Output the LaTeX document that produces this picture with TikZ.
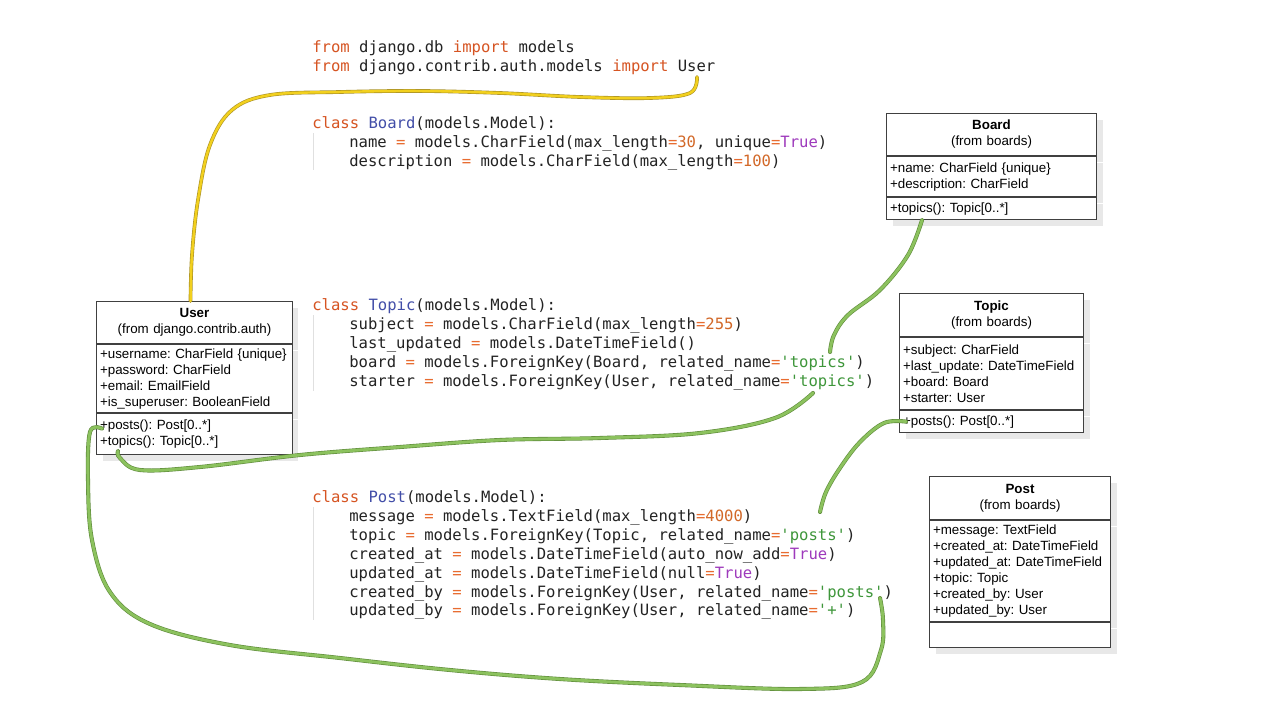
\documentclass[tikz,border=0pt]{standalone}
\usepackage{fontspec}
\setmainfont{Liberation Sans}
\newfontfamily\codefont{DejaVu Sans Mono}
\usetikzlibrary{positioning,shadows}

\definecolor{kwcol}{RGB}{214,84,34}
\definecolor{clscol}{RGB}{66,78,168}
\definecolor{eqcol}{RGB}{232,108,48}
\definecolor{numcol}{RGB}{210,104,40}
\definecolor{strcol}{RGB}{62,150,58}
\definecolor{trucol}{RGB}{158,58,188}
\definecolor{txtcol}{RGB}{35,35,35}
\definecolor{lnkgreen}{RGB}{140,194,94}
\definecolor{lnkgreendark}{RGB}{96,140,60}
\definecolor{lnkyellow}{RGB}{242,208,30}
\definecolor{lnkyellowdark}{RGB}{170,146,40}

\newcommand\codekw[1]{\textcolor{kwcol}{#1}}
\newcommand\codecls[1]{\textcolor{clscol}{#1}}
\newcommand\codeeq{\textcolor{eqcol}{=}}
\newcommand\codenum[1]{\textcolor{numcol}{#1}}
\newcommand\codestr[1]{\textcolor{strcol}{#1}}
\newcommand\codetrue{\textcolor{trucol}{True}}

\tikzset{
  code/.style={anchor=base west, inner sep=0pt, text=txtcol,
    font=\fontsize{8.86pt}{10.8pt}\selectfont\codefont},
  guide/.style={draw=black!12, line width=0.4pt},
  umlpart/.style={draw=black!75, fill=white, line width=0.6pt,
    inner xsep=0.07cm, inner ysep=0pt, align=left,
    font=\fontsize{7.6pt}{9.1pt}\selectfont\frenchspacing,
    drop shadow={shadow xshift=0.12cm, shadow yshift=-0.12cm, fill=black!9, opacity=1}},
  umlhead/.style={umlpart, align=center},
  greenlink/.style={draw=lnkgreen, line width=1.6pt, line cap=round,
    preaction={draw=lnkgreendark, line width=2.3pt, line cap=round}},
  yellowlink/.style={draw=lnkyellow, line width=1.4pt, line cap=round,
    preaction={draw=lnkyellowdark, line width=2.1pt, line cap=round}}
}

\begin{document}
\begin{tikzpicture}[x=0.02cm, y=-0.02cm]
\fill[white] (0,0) rectangle (1280,720);
\useasboundingbox (0,0) rectangle (1280,720);

% source code
\node[code] (imp1) at (312,52) {\codekw{from} django.db \codekw{import} models};
\node[code] (imp2) at (312,71) {\codekw{from} django.contrib.auth.models \codekw{import} User};

\node[code] (bCls) at (312,128) {\codekw{class} \codecls{Board}(models.Model):};
\node[code] (bName) at (349,147) {name \codeeq{} models.CharField(max\_length\codeeq\codenum{30}, unique\codeeq\codetrue)};
\node[code] (bDesc) at (349,166) {description \codeeq{} models.CharField(max\_length\codeeq\codenum{100})};
\draw[guide] (313,133) -- (313,170);

\node[code] (tCls) at (312,310) {\codekw{class} \codecls{Topic}(models.Model):};
\node[code] (tSubj) at (349,329) {subject \codeeq{} models.CharField(max\_length\codeeq\codenum{255})};
\node[code] (tLast) at (349,348) {last\_updated \codeeq{} models.DateTimeField()};
\node[code] (tBoard) at (349,367) {board \codeeq{} models.ForeignKey(Board, related\_name\codeeq\codestr{'topics'})};
\node[code] (tStarter) at (349,386) {starter \codeeq{} models.ForeignKey(User, related\_name\codeeq\codestr{'topics'})};
\draw[guide] (313,315) -- (313,391);

\node[code] (pCls) at (312,502) {\codekw{class} \codecls{Post}(models.Model):};
\node[code] (pMsg) at (349,521) {message \codeeq{} models.TextField(max\_length\codeeq\codenum{4000})};
\node[code] (pTopic) at (349,540) {topic \codeeq{} models.ForeignKey(Topic, related\_name\codeeq\codestr{'posts'})};
\node[code] (pCreAt) at (349,559) {created\_at \codeeq{} models.DateTimeField(auto\_now\_add\codeeq\codetrue)};
\node[code] (pUpdAt) at (349,578) {updated\_at \codeeq{} models.DateTimeField(null\codeeq\codetrue)};
\node[code] (pCreBy) at (349,597) {created\_by \codeeq{} models.ForeignKey(User, related\_name\codeeq\codestr{'posts'})};
\node[code] (pUpdBy) at (349,615) {updated\_by \codeeq{} models.ForeignKey(User, related\_name\codeeq\codestr{'+'})};
\draw[guide] (313,507) -- (313,620);

% uml classes
\node[umlhead, text width=4.06cm, minimum height=0.84cm, anchor=north west] (board) at (886,113) {\textbf{Board}\\(from boards)};
\node[umlpart, text width=4.06cm, minimum height=0.8cm, below=0pt of board] (boardAttr) {+name: CharField \{unique\}\\+description: CharField};
\node[umlpart, text width=4.06cm, minimum height=0.44cm, below=0pt of boardAttr] (boardOps) {+topics(): Topic[0..*]};

\node[umlhead, text width=3.54cm, minimum height=0.86cm, anchor=north west] (topic) at (899,293) {\textbf{Topic}\\(from boards)};
\node[umlpart, text width=3.54cm, minimum height=1.44cm, below=0pt of topic] (topicAttr) {+subject: CharField\\+last\_update: DateTimeField\\+board: Board\\+starter: User};
\node[umlpart, text width=3.54cm, minimum height=0.44cm, below=0pt of topicAttr] (topicOps) {+posts(): Post[0..*]};

\node[umlhead, text width=3.48cm, minimum height=0.86cm, anchor=north west] (post) at (929,476) {\textbf{Post}\\(from boards)};
\node[umlpart, text width=3.48cm, minimum height=2.02cm, below=0pt of post] (postAttr) {+message: TextField\\+created\_at: DateTimeField\\+updated\_at: DateTimeField\\+topic: Topic\\+created\_by: User\\+updated\_by: User};
\node[umlpart, text width=3.48cm, minimum height=0.5cm, below=0pt of postAttr] (postOps) {};

\node[umlhead, text width=3.78cm, minimum height=0.84cm, anchor=north west] (user) at (96,301) {\textbf{User}\\(from django.contrib.auth)};
\node[umlpart, text width=3.78cm, minimum height=1.36cm, below=0pt of user] (userAttr) {+username: CharField \{unique\}\\+password: CharField\\+email: EmailField\\+is\_superuser: BooleanField};
\node[umlpart, text width=3.78cm, minimum height=0.82cm, below=0pt of userAttr] (userOps) {+posts(): Post[0..*]\\+topics(): Topic[0..*]};

% link ends
\coordinate (impUser) at (697,77);
\coordinate (boardFk) at (830,352);
\coordinate (starterFk) at (813,393);
\coordinate (topicFk) at (820,512);
\coordinate (createdFk) at (880,598);
\coordinate (userTop) at ([xshift=-0.08cm]user.north);
\coordinate (boardTopics) at ([xshift=0.72cm]boardOps.south west);
\coordinate (topicPosts) at ([xshift=0.14cm]topicOps.west);
\coordinate (userPosts) at ([xshift=0.12cm, yshift=0.11cm]userOps.west);
\coordinate (userTopics) at ([xshift=0.44cm, yshift=0.08cm]userOps.south west);

% links
\draw[yellowlink] plot[smooth, tension=0.6] coordinates {(impUser) (690,93) (650,98) (580,97) (500,93) (420,91) (340,92) (270,95) (232,110) (210,145) (198,200) (192,255) (userTop)};
\draw[greenlink] plot[smooth, tension=0.6] coordinates {(boardTopics) (908,255) (880,290) (848,315) (834,335) (boardFk)};
\draw[greenlink] plot[smooth, tension=0.6] coordinates {(starterFk) (775,418) (700,433) (600,438) (500,440) (400,447) (300,455) (200,467) (140,470) (120,458) (userTopics)};
\draw[greenlink] plot[smooth, tension=0.6] coordinates {(topicPosts) (884,423) (860,442) (840,468) (826,492) (topicFk)};
\draw[greenlink] plot[smooth, tension=0.6] coordinates {(userPosts) (90,432) (88,480) (92,540) (110,592) (150,624) (230,645) (340,658) (450,670) (560,679) (680,685) (800,689) (862,682) (881,650) (883,620) (createdFk)};
\end{tikzpicture}
\end{document}
